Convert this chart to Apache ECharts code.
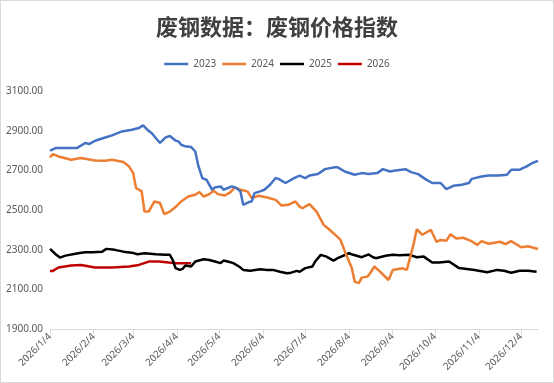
<!DOCTYPE html>
<html><head><meta charset="utf-8">
<script src="https://cdn.jsdelivr.net/npm/echarts@6/dist/echarts.min.js"></script>
<style>
html,body{margin:0;padding:0;background:#fff;}
#wrap{width:554px;height:383px;box-sizing:border-box;border:1px solid #d9d9d9;}
#c{width:552px;height:381px;}
</style></head>
<body><div id="wrap"><div id="c"></div></div>
<script>
// Title / legend
const titleText = '废钢数据：废钢价格指数';
const seriesNames = ['2023', '2024', '2025', '2026'];
const seriesColors = ['#4472C4', '#ED7D31', '#000000', '#C00000'];
// Y axis ticks
const yMin = 1900, yMax = 3100, yStep = 200;
// X axis range (month/day in 2026)
const axisStart = '2026/1/4', axisEnd = '2026/12/16';

// 2023 series
const d2023 = ['1/4','1/8','1/23','1/29','2/1','2/5','2/11','2/12','2/17','2/24','3/3','3/8','3/11','3/14','3/17','3/23','3/27','3/30','4/3','4/5','4/7','4/10','4/14','4/17','4/19','4/22','4/25','4/29','5/1','5/5','5/7','5/13','5/16','5/19','5/21','5/25','5/27','5/29','6/2','6/5','6/9','6/13','6/15','6/20','6/26','6/30','7/4','7/7','7/13','7/18','7/25','7/27','8/1','8/8','8/13','8/18','8/24','8/28','9/2','9/6','9/13','9/17','9/22','9/28','10/2','10/8','10/12','10/17','10/23','10/28','10/30','11/6','11/11','11/18','11/24','11/27','12/3','12/8','12/12','12/16'];
const v2023 = [2799,2812,2812,2838,2833,2849,2863,2860,2876,2896,2905,2913,2927,2905,2888,2838,2866,2873,2850,2846,2829,2821,2818,2795,2728,2661,2652,2602,2614,2619,2602,2619,2611,2594,2526,2540,2543,2585,2594,2602,2627,2661,2657,2636,2661,2673,2661,2674,2681,2706,2716,2715,2694,2678,2686,2681,2686,2706,2694,2699,2706,2691,2681,2652,2636,2636,2605,2622,2627,2636,2657,2669,2674,2674,2678,2703,2703,2720,2737,2748];

// 2024 series
const d2024 = ['1/4','1/6','1/10','1/19','1/26','2/5','2/12','2/17','2/25','3/1','3/4','3/6','3/10','3/12','3/15','3/19','3/23','3/26','3/30','4/3','4/7','4/12','4/17','4/20','4/23','4/27','4/30','5/3','5/8','5/12','5/15','5/19','5/24','5/27','6/1','6/7','6/13','6/17','6/22','6/27','6/30','7/2','7/7','7/12','7/17','7/20','7/24','7/29','8/2','8/6','8/8','8/11','8/13','8/17','8/19','8/22','8/26','9/1','9/4','9/11','9/14','9/19','9/21','9/25','10/1','10/5','10/8','10/12','10/15','10/19','10/24','10/29','11/3','11/6','11/11','11/19','11/23','11/27','12/4','12/9','12/16'];
const v2024 = [2765,2782,2770,2753,2762,2750,2748,2753,2742,2720,2686,2611,2594,2492,2492,2543,2535,2479,2492,2515,2543,2568,2577,2590,2568,2580,2597,2580,2573,2590,2614,2602,2594,2560,2572,2563,2551,2523,2526,2543,2517,2509,2530,2492,2425,2408,2383,2349,2274,2207,2139,2131,2159,2164,2181,2215,2189,2147,2198,2206,2198,2333,2403,2375,2400,2340,2349,2345,2378,2356,2360,2346,2324,2343,2330,2340,2328,2343,2312,2317,2303];

// 2025 series
const d2025 = ['1/4','1/8','1/11','1/15','1/24','1/29','2/3','2/10','2/13','2/19','2/25','3/3','3/7','3/12','3/20','3/27','3/30','4/1','4/3','4/6','4/8','4/10','4/14','4/17','4/23','4/27','5/1','5/5','5/7','5/10','5/14','5/18','5/21','5/26','6/2','6/7','6/11','6/16','6/21','6/24','6/28','6/30','7/4','7/9','7/11','7/15','7/19','7/24','7/27','8/4','8/7','8/13','8/18','8/21','8/23','8/30','9/4','9/9','9/16','9/21','9/26','10/2','10/7','10/14','10/21','11/1','11/10','11/17','11/22','11/27','12/3','12/9','12/15'];
const v2025 = [2304,2277,2260,2270,2282,2287,2287,2290,2304,2299,2290,2285,2277,2282,2277,2274,2274,2248,2207,2198,2203,2220,2215,2240,2252,2248,2240,2232,2245,2240,2232,2215,2198,2194,2201,2198,2198,2189,2181,2184,2193,2189,2207,2215,2240,2274,2265,2245,2257,2282,2274,2262,2276,2262,2257,2269,2274,2272,2274,2262,2265,2235,2235,2240,2207,2198,2186,2198,2194,2184,2194,2194,2189];

// 2026 series
const d2026 = ['1/4','1/6','1/10','1/19','1/26','2/5','2/17','3/1','3/8','3/15','3/22','3/29','4/4','4/14'];
const v2026 = [2193,2193,2210,2220,2223,2210,2210,2215,2223,2240,2240,2235,2232,2232];

// build the daily category list
function fmt(dt){ return dt.getFullYear() + '/' + (dt.getMonth()+1) + '/' + dt.getDate(); }
const categories = [];
{
  const p = axisEnd.split('/').map(Number);
  const e = new Date(p[0], p[1]-1, p[2]);
  const sp = axisStart.split('/').map(Number);
  let cur = new Date(sp[0], sp[1]-1, sp[2]);
  while (cur <= e) { categories.push(fmt(cur)); cur = new Date(cur.getFullYear(), cur.getMonth(), cur.getDate()+1); }
}
const pair = (ds, vs) => ds.map((d, i) => ['2026/' + d, vs[i]]);
const dataSets = [pair(d2023, v2023), pair(d2024, v2024), pair(d2025, v2025), pair(d2026, v2026)];
const isLabelDay = (idx, val) => /\/4$/.test(val);

const chart = echarts.init(document.getElementById('c'), null, {renderer: 'canvas'});
chart.setOption({
  animation: false,
  backgroundColor: '#ffffff',
  title: {
    text: titleText, left: 'center', top: 10,
    textStyle: {fontFamily: '"Noto Sans CJK SC"', fontSize: 22, fontWeight: 'bold', color: '#404040'}
  },
  legend: {
    data: seriesNames, top: 53, left: 'center',
    icon: 'rect', itemWidth: 24, itemHeight: 2.5, itemGap: 6,
    textStyle: {fontFamily: '"Noto Sans"', fontSize: 10, color: '#595959'}
  },
  grid: {left: 49, right: 15, top: 90, bottom: 53},
  xAxis: {
    type: 'category', data: categories, boundaryGap: false,
    axisLine: {lineStyle: {color: '#d9d9d9', width: 1}},
    axisTick: {interval: isLabelDay, length: 5, lineStyle: {color: '#d9d9d9'}},
    axisLabel: {interval: isLabelDay, rotate: 45, fontFamily: '"Noto Sans"', fontSize: 10, color: '#595959', margin: 6},
    splitLine: {show: false}
  },
  yAxis: {
    type: 'value', min: yMin, max: yMax, interval: yStep,
    axisLine: {show: false}, axisTick: {show: false}, splitLine: {show: false},
    axisLabel: {formatter: v => v.toFixed(2), fontFamily: '"Noto Sans"', fontSize: 10, color: '#595959', margin: 7}
  },
  series: seriesNames.map((n, i) => ({
    name: n, type: 'line', data: dataSets[i], showSymbol: false, symbol: 'none',
    lineStyle: {color: seriesColors[i], width: 2.5}, itemStyle: {color: seriesColors[i]},
    z: 10 - i
  }))
});
</script></body></html>
